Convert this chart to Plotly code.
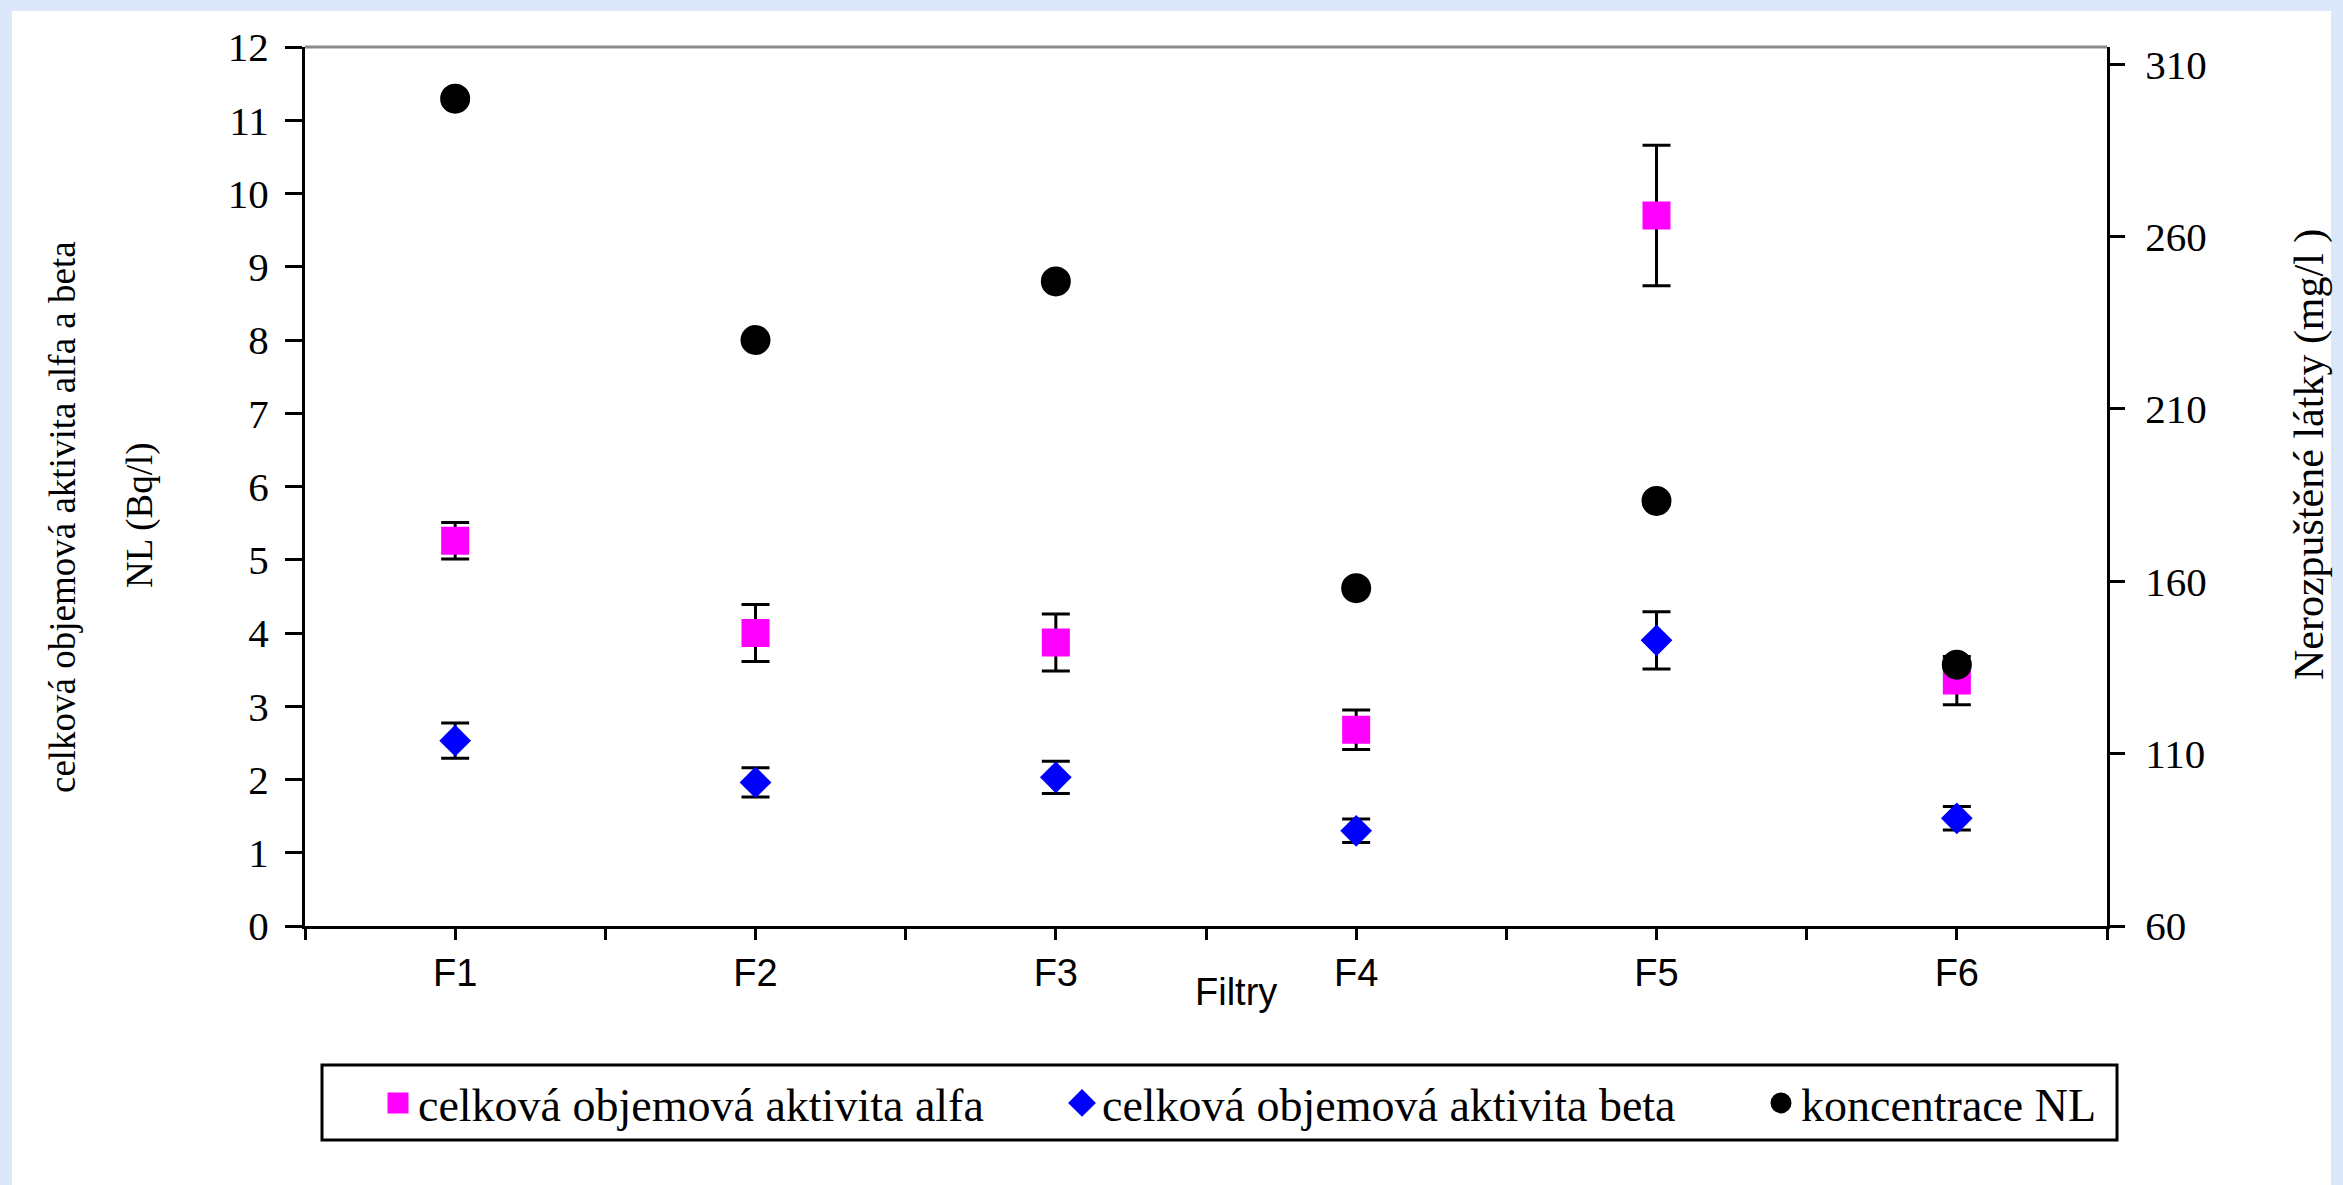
import plotly.graph_objects as go

# ---- data ----
categories = ["F1", "F2", "F3", "F4", "F5", "F6"]
alfa = [5.26, 4.00, 3.87, 2.68, 9.70, 3.35]
alfa_err = [0.25, 0.39, 0.39, 0.27, 0.96, 0.33]
beta = [2.53, 1.96, 2.03, 1.30, 3.90, 1.47]
beta_err = [0.24, 0.20, 0.22, 0.16, 0.39, 0.16]
nl = [300.0, 230.0, 247.0, 158.0, 183.3, 135.8]

series_names = ["celková objemová aktivita alfa",
                "celková objemová aktivita beta",
                "koncentrace NL"]

left_ticks = list(range(0, 13))
right_ticks = [60, 110, 160, 210, 260, 310]

W, H = 2343, 1185
L, R, T, B = 305, 2107, 47, 926


def px(xp):
    return (xp - L) / (R - L)


def py(yp):
    return (B - yp) / (B - T)


xpos = list(range(len(categories)))
half_vals = [i / 2 - 0.5 for i in range(2 * len(categories) + 1)]
half_text = [categories[int(v)] if float(v).is_integer() else "" for v in half_vals]

serif = "Liberation Serif"
sans = "Liberation Sans"

fig = go.Figure()
fig.add_trace(go.Scatter(
    x=xpos, y=alfa, mode="markers", name=series_names[0], legend="legend",
    marker=dict(symbol="square", size=23, color="#FF00FF",
                line=dict(color="#FF00FF", width=5)),
    error_y=dict(type="data", array=alfa_err, color="black", thickness=3, width=14),
    xaxis="x", yaxis="y"))
fig.add_trace(go.Scatter(
    x=xpos, y=beta, mode="markers", name=series_names[1], legend="legend2",
    marker=dict(symbol="diamond", size=19, color="#0000FF",
                line=dict(color="#0000FF", width=5)),
    error_y=dict(type="data", array=beta_err, color="black", thickness=3, width=14),
    xaxis="x", yaxis="y"))
fig.add_trace(go.Scatter(
    x=xpos, y=nl, mode="markers", name=series_names[2], legend="legend3",
    marker=dict(symbol="circle", size=25, color="black",
                line=dict(color="black", width=5)),
    xaxis="x", yaxis="y2"))

common = dict(showgrid=False, zeroline=False, automargin=False)
leg_common = dict(orientation="h", yanchor="middle", xanchor="left", y=py(1103),
                  bgcolor="rgba(0,0,0,0)", borderwidth=0,
                  font=dict(family=serif, size=46, color="black"), itemsizing="trace")

fig.update_layout(
    template="none",
    width=W, height=H,
    margin=dict(l=L, r=W - R, t=T, b=H - B, autoexpand=False),
    paper_bgcolor="#dce8f9",
    plot_bgcolor="white",
    showlegend=True,
    xaxis=dict(range=[-0.5, 5.5], tickmode="array", tickvals=half_vals, ticktext=half_text,
               ticks="outside", ticklen=11, tickwidth=3, tickcolor="black",
               showline=True, linecolor="black", linewidth=3,
               tickfont=dict(family=sans, size=38, color="black"),
               ticklabelstandoff=0, anchor="y", **common),
    xaxis2=dict(range=[-0.5, 5.5], tickmode="array", tickvals=half_vals,
                ticks="inside", ticklen=8, tickwidth=3, tickcolor="black",
                showticklabels=False, showline=False, overlaying="x", anchor="y", **common),
    yaxis=dict(range=[0, 12], tickmode="array", tickvals=left_ticks,
               ticks="outside", ticklen=17, tickwidth=3, tickcolor="black",
               showline=True, linecolor="black", linewidth=3,
               tickfont=dict(family=serif, size=41, color="black"),
               ticklabelstandoff=8, anchor="x", **common),
    yaxis3=dict(range=[0, 12], tickmode="array", tickvals=left_ticks,
                ticks="inside", ticklen=14, tickwidth=3, tickcolor="black",
                showticklabels=False, showline=False, overlaying="y", side="left",
                anchor="x", **common),
    yaxis2=dict(range=[60, 315], tickmode="array", tickvals=right_ticks,
                ticks="outside", ticklen=15, tickwidth=3, tickcolor="black",
                showline=True, linecolor="black", linewidth=3,
                tickfont=dict(family=serif, size=41, color="black"),
                ticklabelstandoff=12, overlaying="y", side="right", anchor="x", **common),
    yaxis4=dict(range=[60, 315], tickmode="array", tickvals=right_ticks,
                ticks="inside", ticklen=17, tickwidth=3, tickcolor="black",
                showticklabels=False, showline=False, overlaying="y", side="right",
                anchor="x", **common),
    legend=dict(x=px(378), **leg_common),
    legend2=dict(x=px(1062), **leg_common),
    legend3=dict(x=px(1761), **leg_common),
    shapes=[
        dict(type="rect", xref="paper", yref="paper", x0=px(12), x1=px(2331),
             y0=py(1190), y1=py(11), fillcolor="white", line=dict(width=0), layer="below"),
        dict(type="line", xref="paper", yref="paper", x0=0, x1=1, y0=1, y1=1,
             line=dict(color="#8a8a8a", width=3)),
        dict(type="rect", xref="paper", yref="paper", x0=px(322), x1=px(2117),
             y0=py(1140), y1=py(1065), line=dict(color="black", width=3)),
    ],
    annotations=[
        dict(text="Filtry", xref="paper", yref="paper", x=px(1236), y=py(992),
             xanchor="center", yanchor="middle", showarrow=False,
             font=dict(family=sans, size=38, color="black")),
        dict(text="celková objemová aktivita alfa a beta", xref="paper", yref="paper",
             x=px(62), y=py(517), xanchor="center", yanchor="middle", textangle=-90,
             showarrow=False, font=dict(family=serif, size=37, color="black")),
        dict(text="NL (Bq/l)", xref="paper", yref="paper",
             x=px(140), y=py(515), xanchor="center", yanchor="middle", textangle=-90,
             showarrow=False, font=dict(family=serif, size=37, color="black")),
        dict(text="Nerozpuštěné látky (mg/l )", xref="paper", yref="paper",
             x=px(2309), y=py(455), xanchor="center", yanchor="middle", textangle=-90,
             showarrow=False, font=dict(family=serif, size=42, color="black")),
    ],
)

fig.write_html("out.html", config={"displayModeBar": False},
               post_script="document.body.style.margin='0';document.body.style.padding='0';")
